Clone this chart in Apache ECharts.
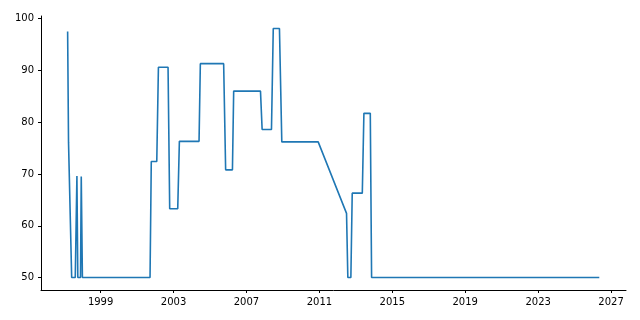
<!DOCTYPE html>
<html>
<head>
<meta charset="utf-8">
<script src="https://cdn.jsdelivr.net/npm/echarts@6/dist/echarts.min.js"></script>
<style>
html,body{margin:0;padding:0;background:#fff;}
#chart{width:640px;height:320px;}
</style>
</head>
<body>
<div id="chart"></div>
<script>
const dates = [
  '1997-03-11','1997-03-29','1997-05-05','1997-05-31','1997-08-11','1997-09-13','1997-10-01',
  '1997-11-24','1997-12-09','1998-01-01',
  '2001-09-17','2001-10-12','2002-01-30','2002-03-04','2002-09-13','2002-10-16',
  '2003-03-26','2003-04-28','2004-05-26','2004-06-21','2005-10-01','2005-11-10',
  '2006-03-26','2006-04-20','2007-10-09','2007-11-11','2008-05-16','2008-06-21',
  '2008-10-23','2008-12-09','2010-12-08',
  '2012-06-28','2012-07-24','2012-09-23','2012-10-20','2013-05-10','2013-06-11',
  '2013-10-17','2013-11-12','2026-05-10'
];
const values = [
  97.5,76.1,76.1,50,50,69.6,50,
  50,69.5,50,
  50,72.4,72.4,90.6,90.6,63.3,
  63.3,76.3,76.3,91.3,91.3,70.8,
  70.8,86.0,86.0,78.6,78.6,98.1,
  98.1,76.2,76.2,
  62.4,50,50,66.3,66.3,81.7,
  81.7,50,50
];
const xTickYears = [1999,2003,2007,2011,2015,2019,2023,2027];
const yTickValues = [50,60,70,80,90,100];

const xTicks = xTickYears.map(y => Date.UTC(y,0,1));
const seriesData = dates.map((d,i) => [Date.parse(d + 'T00:00:00Z'), values[i]]);
const fracYear = f => { const y = Math.floor(f); const s = Date.UTC(y,0,1), e = Date.UTC(y+1,0,1); return s + (f-y)*(e-s); };

const chart = echarts.init(document.getElementById('chart'), null, {renderer:'canvas'});
chart.setOption({
  animation:false,
  backgroundColor:'#fff',
  textStyle:{fontFamily:'DejaVu Sans'},
  grid:{left:41,right:14,top:16,bottom:30,containLabel:false},
  xAxis:{
    type:'value',
    scale:true,
    min:fracYear(1995.73),
    max:fracYear(2027.82),
    axisLine:{show:true,lineStyle:{color:'#000',width:1}},
    axisTick:{show:true,length:3,lineStyle:{color:'#000',width:1},customValues:xTicks},
    axisLabel:{show:true,color:'#000',fontSize:10,margin:7,customValues:xTicks,
      formatter:(v)=>String(new Date(v).getUTCFullYear()),hideOverlap:false},
    splitLine:{show:false},
    minorTick:{show:false}
  },
  yAxis:{
    type:'value',
    min:47.6,
    max:100.5,
    axisLine:{show:true,lineStyle:{color:'#000',width:1}},
    axisTick:{show:true,length:3,lineStyle:{color:'#000',width:1},customValues:yTickValues},
    axisLabel:{show:true,color:'#000',fontSize:10,margin:7,customValues:yTickValues},
    splitLine:{show:false}
  },
  series:[{
    type:'line',
    data:seriesData,
    showSymbol:false,
    symbol:'none',
    lineStyle:{color:'#1f77b4',width:1.6},
    itemStyle:{color:'#1f77b4'}
  }]
});
</script>
</body>
</html>
